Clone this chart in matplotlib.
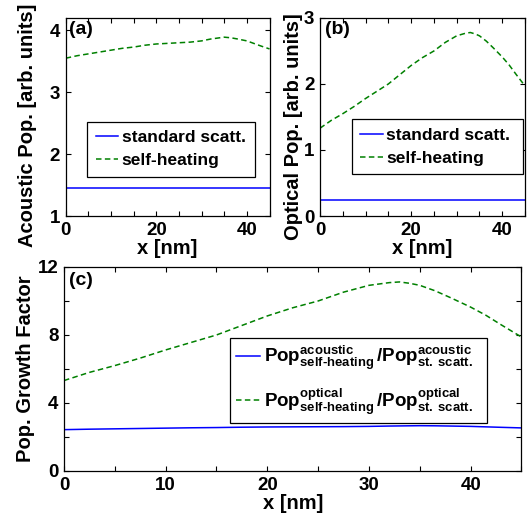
import matplotlib
matplotlib.use("Agg")
import matplotlib.pyplot as plt
from matplotlib.ticker import MultipleLocator, FuncFormatter

plt.rcParams['font.family'] = ['Liberation Sans', 'DejaVu Sans']
plt.rcParams['font.weight'] = 'bold'
plt.rcParams['axes.labelweight'] = 'bold'
plt.rcParams['mathtext.fontset'] = 'custom'
plt.rcParams['mathtext.rm'] = 'Liberation Sans:bold'
plt.rcParams['mathtext.it'] = 'Liberation Sans:bold'
plt.rcParams['mathtext.bf'] = 'Liberation Sans:bold'

# Position along the device [nm]
x_nm = [0, 2.5, 5, 7.5, 10, 12.5, 15, 17.5, 20, 22.5, 25, 27.5, 30,
        32, 33, 34, 35, 36.5, 38, 40, 41.5, 43, 45]

# Acoustic phonon population [arb. units]
acoustic_standard = 1.46
acoustic_self_heating = [3.55, 3.59, 3.62, 3.65, 3.68, 3.71, 3.73, 3.76, 3.78,
                         3.79, 3.80, 3.81, 3.83, 3.86, 3.87, 3.88, 3.89, 3.88,
                         3.86, 3.83, 3.79, 3.75, 3.70]

# Optical phonon population [arb. units]
optical_standard = 0.25
optical_self_heating = [1.33, 1.45, 1.55, 1.66, 1.78, 1.89, 2.00, 2.14, 2.28,
                        2.40, 2.50, 2.63, 2.73, 2.77, 2.78, 2.76, 2.73, 2.65,
                        2.55, 2.41, 2.29, 2.15, 1.97]

legend_labels_ab = ['standard scatt.', 'self-heating']
legend_labels_c = [
    r'$\mathrm{Pop}^{\mathrm{acoustic}}_{\mathrm{self\text{-}heating}}\,/\mathrm{Pop}^{\mathrm{acoustic}}_{\mathrm{st.\:scatt.}}$',
    r'$\mathrm{Pop}^{\mathrm{optical}}_{\mathrm{self\text{-}heating}}\,/\mathrm{Pop}^{\mathrm{optical}}_{\mathrm{st.\:scatt.}}$',
]

# Growth factors: self-heating population over standard-scattering population
growth_acoustic = [v / acoustic_standard for v in acoustic_self_heating]
growth_optical = [v / optical_standard for v in optical_self_heating]

BLUE = '#0000ff'
GREEN = '#008000'
DASH = (0, (3.6, 2.2))
TICK_FS = 13.5
LABEL_FS = 14.5

fig = plt.figure(figsize=(5.27, 5.17), dpi=100)
ax_a = fig.add_axes([0.1247, 0.5822, 0.3867, 0.3830])
ax_b = fig.add_axes([0.6072, 0.5822, 0.3890, 0.3830])
ax_c = fig.add_axes([0.1214, 0.0890, 0.8681, 0.3946])


def style_axes(ax, xlabel_every, ylabel_every, ymajor):
    ax.xaxis.set_major_locator(MultipleLocator(5))
    ax.yaxis.set_major_locator(MultipleLocator(ymajor))
    ax.xaxis.set_major_formatter(FuncFormatter(
        lambda v, p: f'{v:.0f}' if abs(v / xlabel_every - round(v / xlabel_every)) < 1e-6 else ''))
    ax.yaxis.set_major_formatter(FuncFormatter(
        lambda v, p: f'{v:.0f}' if abs(v / ylabel_every - round(v / ylabel_every)) < 1e-6 else ''))
    ax.tick_params(direction='in', top=True, right=True, length=3.5, width=0.8,
                   labelsize=TICK_FS, pad=4)
    for lab in ax.get_xticklabels() + ax.get_yticklabels():
        lab.set_fontweight('bold')
    for s in ax.spines.values():
        s.set_linewidth(0.9)
    ax.set_xlim(0, 45)


def box_legend(ax, anchor, fs, spacing, pad, hl):
    leg = ax.legend(loc='lower left', bbox_to_anchor=anchor, mode='expand',
                    fontsize=fs, handlelength=hl, handletextpad=0.2,
                    fancybox=False, framealpha=1, edgecolor='black',
                    borderaxespad=0, labelspacing=spacing, borderpad=pad)
    leg.get_frame().set_linewidth(0.9)
    for t in leg.get_texts():
        t.set_fontweight('bold')
    return leg


# (a) acoustic population
ax_a.plot(x_nm, [acoustic_standard] * len(x_nm), color=BLUE, lw=1.1,
          label=legend_labels_ab[0])
ax_a.plot(x_nm, acoustic_self_heating, color=GREEN, lw=1.1, linestyle=DASH,
          label=legend_labels_ab[1])
ax_a.set_ylim(1, 4.2)
style_axes(ax_a, 20, 1, 1)
ax_a.set_xlabel('x [nm]', fontsize=LABEL_FS, labelpad=0)
ax_a.set_ylabel('Acoustic Pop. [arb. units]', fontsize=LABEL_FS)
ax_a.yaxis.set_label_coords(-0.14, 0.46)
ax_a.text(0.018, 0.985, '(a)', transform=ax_a.transAxes, fontsize=14,
          fontweight='bold', va='top', ha='left')
box_legend(ax_a, (0.105, 0.197, 0.823, 0.263), 12.5, 0.45, 0.5, 1.3)

# (b) optical population
ax_b.plot(x_nm, [optical_standard] * len(x_nm), color=BLUE, lw=1.1,
          label=legend_labels_ab[0])
ax_b.plot(x_nm, optical_self_heating, color=GREEN, lw=1.1, linestyle=DASH,
          label=legend_labels_ab[1])
ax_b.set_ylim(0, 3)
style_axes(ax_b, 20, 1, 1)
ax_b.set_xlabel('x [nm]', fontsize=LABEL_FS, labelpad=0)
ax_b.set_ylabel('Optical Pop. [arb. units]', fontsize=LABEL_FS)
ax_b.yaxis.set_label_coords(-0.085, 0.45)
ax_b.text(0.025, 0.985, '(b)', transform=ax_b.transAxes, fontsize=14,
          fontweight='bold', va='top', ha='left')
box_legend(ax_b, (0.155, 0.21, 0.837, 0.268), 12.5, 0.45, 0.5, 1.3)

# (c) growth factors
ax_c.plot(x_nm, growth_acoustic, color=BLUE, lw=1.1, label=legend_labels_c[0])
ax_c.plot(x_nm, growth_optical, color=GREEN, lw=1.1, linestyle=DASH,
          label=legend_labels_c[1])
ax_c.set_ylim(0, 12)
style_axes(ax_c, 10, 4, 2)
ax_c.set_xlabel('x [nm]', fontsize=LABEL_FS, labelpad=0)
ax_c.set_ylabel('Pop. Growth Factor', fontsize=LABEL_FS)
ax_c.yaxis.set_label_coords(-0.063, 0.5)
ax_c.text(0.01, 0.975, '(c)', transform=ax_c.transAxes, fontsize=14,
          fontweight='bold', va='top', ha='left')
box_legend(ax_c, (0.363, 0.237, 0.561, 0.438), 13.5, 0.75, 0.3, 1.3)

fig.savefig('out.png', dpi=100)
